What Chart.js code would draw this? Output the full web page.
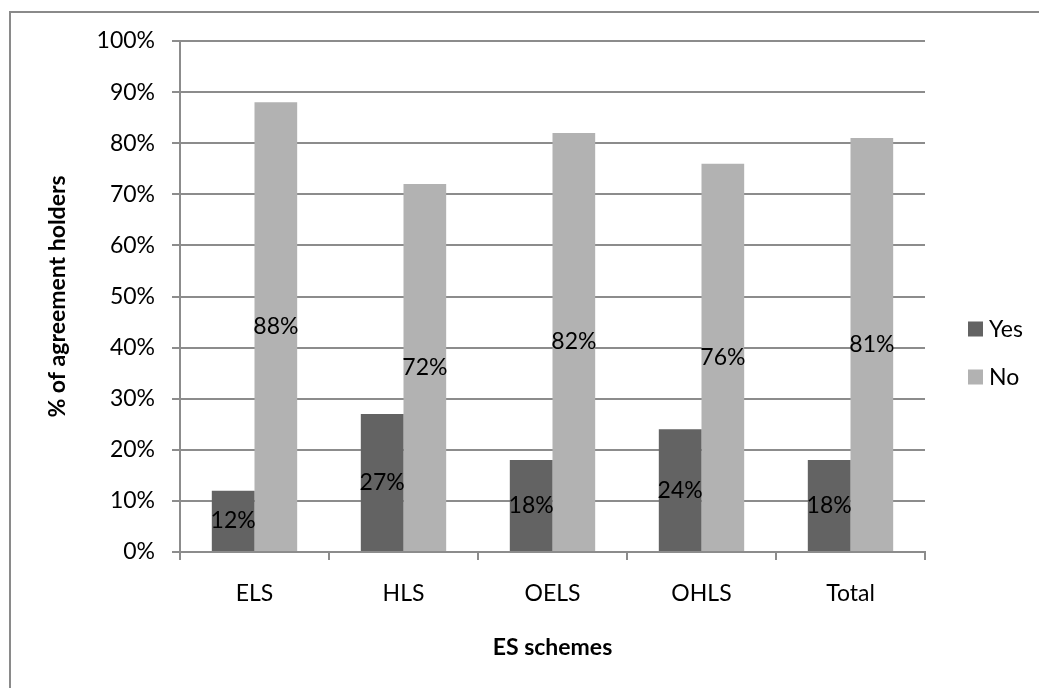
<!DOCTYPE html>
<html>
<head>
<meta charset="utf-8">
<script src="https://cdn.jsdelivr.net/npm/chart.js@4.4.0/dist/chart.umd.min.js"></script>
<style>
  html, body { margin: 0; padding: 0; background: #fff; }
  #wrap { width: 1039px; height: 688px; }
</style>
</head>
<body>
<div id="wrap"><canvas id="myChart" width="1039" height="688"></canvas></div>
<script>
var schemes = ['ELS', 'HLS', 'OELS', 'OHLS', 'Total'];
var yesValues = [12, 27, 18, 24, 18];
var noValues = [88, 72, 82, 76, 81];
var seriesNames = ['Yes', 'No'];

var FONT = 'Lato, "Open Sans", sans-serif';
var FSIZE = 23;
var gridColor = '#8c8c8c';

// grey frame around the whole chart
var framePlugin = {
    id: 'frame',
    beforeDraw: function (chart) {
        var ctx = chart.ctx;
        ctx.save();
        ctx.fillStyle = '#fff';
        ctx.fillRect(0, 0, chart.width, chart.height);
        ctx.strokeStyle = '#8a8a8a';
        ctx.lineWidth = 2;
        ctx.beginPath();
        ctx.moveTo(10, chart.height + 5);
        ctx.lineTo(10, 12);
        ctx.lineTo(chart.width + 5, 12);
        ctx.stroke();
        ctx.restore();
    }
};

// value labels in the middle of each bar
var valueLabels = {
    id: 'valueLabels',
    afterDatasetsDraw: function (chart) {
        var ctx = chart.ctx;
        ctx.save();
        ctx.font = FSIZE + 'px ' + FONT;
        ctx.fillStyle = '#000';
        ctx.textAlign = 'center';
        ctx.textBaseline = 'middle';
        chart.data.datasets.forEach(function (ds, i) {
            chart.getDatasetMeta(i).data.forEach(function (bar, j) {
                ctx.fillText(ds.data[j] + '%', bar.x, (bar.y + bar.base) / 2);
            });
        });
        ctx.restore();
    }
};

// legend on the right, squares + names
var sideLegend = {
    id: 'sideLegend',
    afterDraw: function (chart) {
        var ctx = chart.ctx;
        ctx.save();
        ctx.font = FSIZE + 'px ' + FONT;
        ctx.textBaseline = 'middle';
        ctx.textAlign = 'left';
        chart.data.datasets.forEach(function (ds, i) {
            var cy = 329 + i * 48;
            ctx.fillStyle = ds.backgroundColor;
            ctx.fillRect(968, cy - 7.5, 15, 15);
            ctx.fillStyle = '#000';
            ctx.fillText(ds.label, 989, cy + 1);
        });
        ctx.restore();
    }
};

var ctx = document.getElementById('myChart').getContext('2d');
window.myChart = new Chart(ctx, {
    type: 'bar',
    data: {
        labels: schemes,
        datasets: [{
            label: seriesNames[0],
            data: yesValues,
            backgroundColor: '#636363',
            borderWidth: 0
        }, {
            label: seriesNames[1],
            data: noValues,
            backgroundColor: '#b2b2b2',
            borderWidth: 0
        }]
    },
    options: {
        responsive: false,
        animation: false,
        layout: { padding: { top: 41, right: 114, bottom: 0, left: 0 } },
        datasets: {
            bar: { categoryPercentage: 0.573, barPercentage: 1 }
        },
        plugins: {
            legend: { display: false },
            tooltip: { enabled: false }
        },
        scales: {
            x: {
                grid: {
                    drawOnChartArea: false,
                    drawTicks: true,
                    tickLength: 8,
                    color: gridColor,
                    lineWidth: 2,
                    offset: true
                },
                border: { color: gridColor, width: 2 },
                ticks: {
                    color: '#000',
                    padding: 20,
                    font: { family: FONT, size: FSIZE }
                },
                title: {
                    display: true,
                    text: 'ES schemes',
                    color: '#000',
                    font: { family: FONT, size: FSIZE, weight: 'bold' },
                    padding: { top: 0, bottom: 27 }
                },
                afterFit: function (scale) { scale.height = 136; }
            },
            y: {
                min: 0,
                max: 100,
                grid: {
                    color: gridColor,
                    lineWidth: 2,
                    tickLength: 8
                },
                border: { color: gridColor, width: 2 },
                ticks: {
                    stepSize: 10,
                    color: '#000',
                    padding: 17,
                    font: { family: FONT, size: FSIZE },
                    callback: function (v) { return v + '%'; }
                },
                title: {
                    display: true,
                    text: '% of agreement holders',
                    color: '#000',
                    font: { family: FONT, size: FSIZE, weight: 'bold' },
                    padding: { top: 44, bottom: 0 }
                },
                afterFit: function (scale) { scale.width = 180; }
            }
        }
    },
    plugins: [framePlugin, valueLabels, sideLegend]
});
</script>
</body>
</html>
